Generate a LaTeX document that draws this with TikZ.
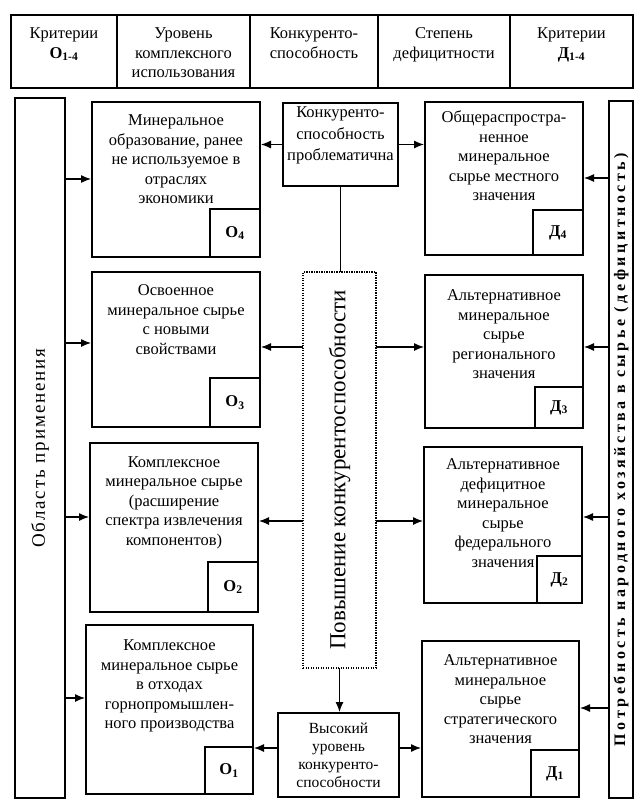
\documentclass[tikz,border=0pt]{standalone}
\usepackage{fontspec}
\setmainfont{Liberation Serif}
\newfontfamily\lsfont[LetterSpace=10]{Liberation Serif}
\newfontfamily\rsfont[LetterSpace=22]{Liberation Serif}
\usetikzlibrary{arrows.meta}
\newcommand{\bt}[4]{\begin{minipage}[t][#2][t]{#1}\centering\vspace*{#3}#4\end{minipage}}
\begin{document}
\begin{tikzpicture}[x=1pt,y=-1pt,
  font=\fontsize{16.5}{19.5}\selectfont,
  box/.style={draw, line width=2.2pt, inner sep=0pt, outer sep=0pt, anchor=north west},
  lab/.style={draw, line width=1.8pt, inner sep=0pt, outer sep=0pt, anchor=south east,
    minimum width=48pt, minimum height=47pt, font=\fontsize{16.5}{19.5}\selectfont\bfseries},
  dotbox/.style={draw, line width=1.5pt, dash pattern=on 1.2pt off 1.3pt, inner sep=0pt,
    outer sep=0pt, anchor=north west},
  arr/.style={line width=1.2pt, shorten >=1pt, -{Latex[length=10pt,width=8pt]}},
  ln/.style={line width=1.2pt}]
\useasboundingbox (0,0) rectangle (639,812);

% header
\node[box] (h1) at (11,15) {\bt{106pt}{73pt}{13pt}{Критерии\\\textbf{О\textsubscript{1-4}}}};
\node[box] (h2) at (117,15) {\bt{133pt}{73pt}{13pt}{Уровень\\комплексного\\использования}};
\node[box] (h3) at (250,15) {\bt{128pt}{73pt}{13pt}{Конкуренто-\\способность}};
\node[box] (h4) at (378,15) {\bt{132pt}{73pt}{13pt}{Степень\\дефицитности}};
\node[box] (h5) at (510,15) {\bt{123pt}{73pt}{13pt}{Критерии\\\textbf{Д\textsubscript{1-4}}}};

% side bars
\node[box, minimum width=50pt, minimum height=700pt] (lb) at (15,98)
  {\rotatebox{90}{\lsfont\fontsize{19}{22}\selectfont Область применения}};
\node[box, minimum width=24pt, minimum height=697pt] (rb) at (609,101)
  {\rotatebox{90}{\rsfont\bfseries\fontsize{16}{18}\selectfont Потребность народного хозяйства в сырье (дефицитность)}};

% centre column
\node[box] (kp) at (283,103) {\bt{115pt}{83pt}{4pt}{\fontsize{16.5}{21.5}\selectfont Конкуренто-\\способность\\проблематична}};
\node[dotbox, minimum width=73pt, minimum height=396pt] (dt) at (303,272)
  {\rotatebox{90}{\fontsize{23}{26}\selectfont Повышение конкурентоспособности}};
\node[box] (vb) at (278,713) {\bt{121pt}{84pt}{10pt}{\fontsize{15.5}{18}\selectfont Высокий\\уровень\\конкуренто-\\способности}};

% O boxes
\node[box] (o4) at (92,102) {\bt{168pt}{155pt}{13pt}{Минеральное\\образование, ранее\\не используемое в\\отраслях\\экономики}};
\node[lab, minimum width=50pt, minimum height=48pt] (o4l) at (o4.south east) {О\textsubscript{4}};
\node[box] (o3) at (92,272) {\bt{168pt}{155pt}{13pt}{Освоенное\\минеральное сырье\\с новыми\\свойствами}};
\node[lab, minimum width=50pt, minimum height=49pt] (o3l) at (o3.south east) {О\textsubscript{3}};
\node[box] (o2) at (90,443) {\bt{168pt}{169pt}{13.5pt}{Комплексное\\минеральное сырье\\(расширение\\спектра извлечения\\компонентов)}};
\node[lab, minimum width=50pt, minimum height=50pt] (o2l) at (o2.south east) {О\textsubscript{2}};
\node[box] (o1) at (86,625) {\bt{167pt}{169pt}{15pt}{Комплексное\\минеральное сырье\\в отходах\\горнопромышлен-\\ного производства}};
\node[lab] (o1l) at (o1.south east) {О\textsubscript{1}};

% D boxes
\node[box] (d4) at (425,102) {\bt{158pt}{153pt}{9pt}{Общераспростра-\\ненное\\минеральное\\сырье местного\\значения}};
\node[lab, minimum width=50pt, minimum height=45pt] (d4l) at (d4.south east) {Д\textsubscript{4}};
\node[box] (d3) at (425,275) {\bt{158pt}{153pt}{15pt}{Альтернативное\\минеральное\\сырье\\регионального\\значения}};
\node[lab, minimum width=48pt, minimum height=41pt] (d3l) at (d3.south east) {Д\textsubscript{3}};
\node[box] (d2) at (424,447) {\bt{158pt}{156pt}{12pt}{Альтернативное\\дефицитное\\минеральное\\сырье\\федерального\\значения}};
\node[lab, minimum width=45pt, minimum height=47pt] (d2l) at (d2.south east) {Д\textsubscript{2}};
\node[box] (d1) at (422,641) {\bt{157pt}{156pt}{14pt}{Альтернативное\\минеральное\\сырье\\стратегического\\значения}};
\node[lab] (d1l) at (d1.south east) {Д\textsubscript{1}};

% connectors from the centre
\draw[arr] (kp.west) -- (kp.west -| o4.east);
\draw[arr] (kp.east) -- (kp.east -| d4.west);
\draw[ln] (kp.south) -- (kp.south |- dt.north);
\draw[arr] (dt.west |- 0,347) -- (o3.east |- 0,347);
\draw[arr] (dt.east |- 0,347) -- (d3.west |- 0,347);
\draw[arr] (dt.west |- 0,521) -- (o2.east |- 0,521);
\draw[arr] (dt.east |- 0,521) -- (d2.west |- 0,521);
\draw[arr] (dt.south) -- (dt.south |- vb.north);
\draw[arr] (vb.west |- 0,748) -- (o1.east |- 0,748);
\draw[arr] (vb.east |- 0,748) -- (d1.west |- 0,748);

% connectors from the left bar
\draw[arr] (lb.east |- 0,179) -- (o4.west |- 0,179);
\draw[arr] (lb.east |- 0,343) -- (o3.west |- 0,343);
\draw[arr] (lb.east |- 0,517) -- (o2.west |- 0,517);
\draw[arr] (lb.east |- 0,698) -- (o1.west |- 0,698);

% connectors from the right bar
\draw[arr] (rb.west |- 0,178) -- (d4.east |- 0,178);
\draw[arr] (rb.west |- 0,347) -- (d3.east |- 0,347);
\draw[arr] (rb.west |- 0,517) -- (d2.east |- 0,517);
\draw[arr] (rb.west |- 0,708) -- (d1.east |- 0,708);
\end{tikzpicture}
\end{document}
